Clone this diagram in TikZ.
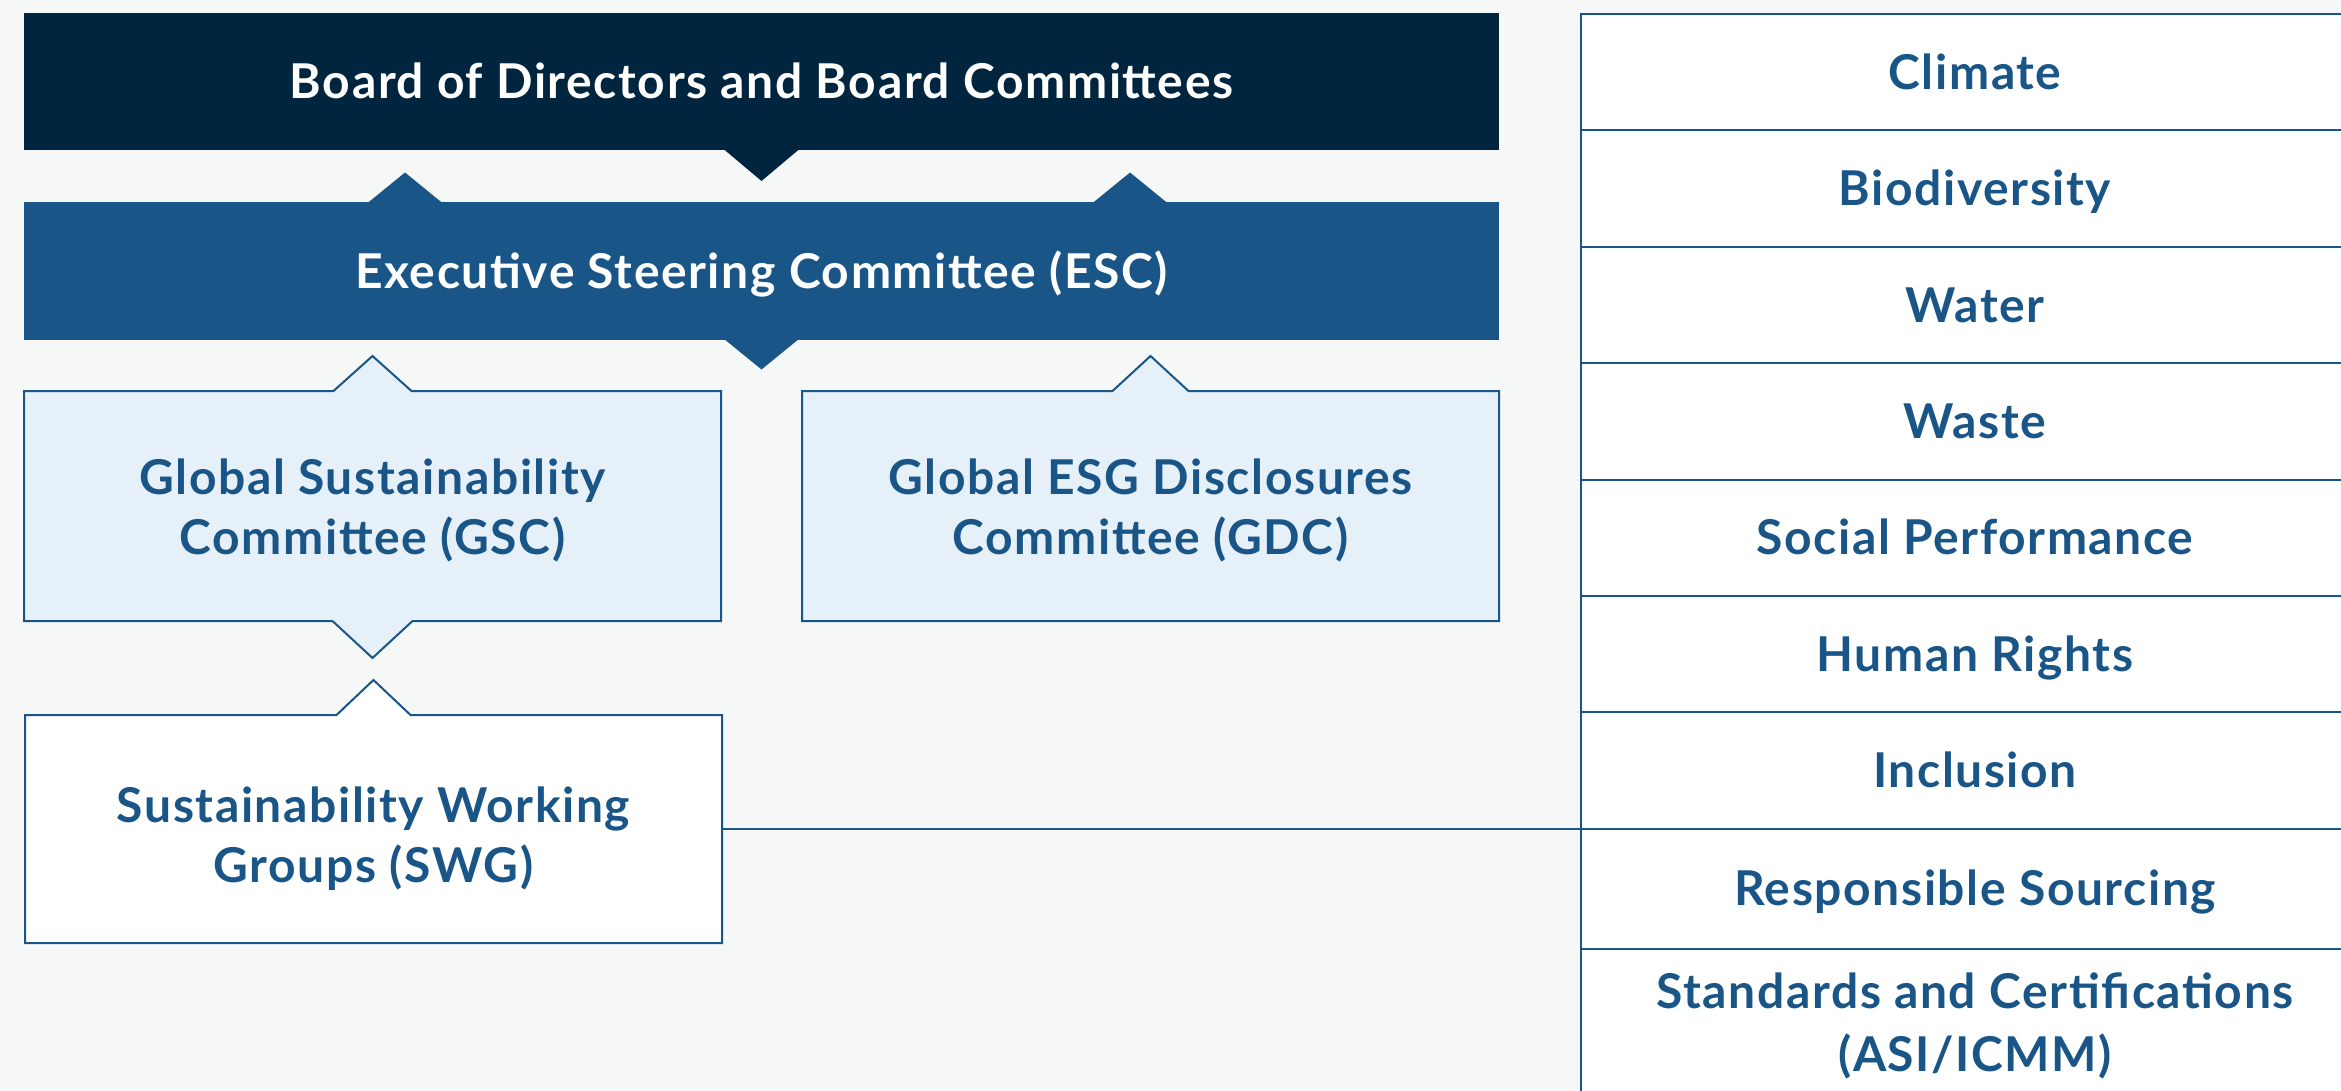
\documentclass[tikz,border=0pt]{standalone}
\usepackage{fontspec}
\setmainfont{Lato}[LetterSpace=3.3]
\usetikzlibrary{positioning,calc,backgrounds}

\definecolor{pagebg}{HTML}{F6F8F8}
\definecolor{boardnavy}{HTML}{01253E}
\definecolor{escblue}{HTML}{1A5587}
\definecolor{panelblue}{HTML}{E6F0F9}

\begin{document}
\begin{tikzpicture}[
    x=1pt, y=-1pt,
    every node/.style={font=\fontsize{48}{60}\selectfont\bfseries, align=center, inner sep=0pt, outer sep=0pt,
        text height=44pt, text depth=10pt},
    bar/.style={rectangle, minimum width=1475pt, minimum height=137pt, text=white},
    panel/.style={rectangle, minimum width=697pt, minimum height=230pt, text=escblue,
        text height=110pt, text depth=13pt},
    topic/.style={rectangle, draw=escblue, line width=2pt, fill=white, text=escblue, minimum width=788pt, minimum height=116.4pt},
    outline/.style={draw=escblue, line width=2pt, line join=miter}
]
\useasboundingbox (0,0) rectangle (2341,1091);
\clip (0,0) rectangle (2341,1091);

% governance bars
\node[bar, fill=boardnavy] (board) at (761.5,81.5) {Board of Directors and Board Committees};
\node[bar, fill=escblue] (esc) at (761.5,271) {Executive Steering Committee (ESC)};

\fill[boardnavy] ($(board.south)+(-38,-1)$) -- ++(38,32) -- ++(38,-32) -- cycle;
\fill[escblue] ($(esc.north west)+(343,1)$) -- ++(38,-31) -- ++(38,31) -- cycle;
\fill[escblue] ($(esc.north west)+(1068,1)$) -- ++(38,-31) -- ++(38,31) -- cycle;
\fill[escblue] ($(esc.south)+(-38,-1)$) -- ++(38,31) -- ++(38,-31) -- cycle;

% committees and working groups
\node[panel] (gsc) at (372.5,506) {Global Sustainability\\Committee (GSC)};
\node[panel] (gdc) at (1150.5,506) {Global ESG Disclosures\\Committee (GDC)};
\node[panel, minimum height=228pt, text height=119pt] (swg) at (373.5,829) {Sustainability Working\\Groups (SWG)};

% topic column
\node[topic, anchor=north west] (climate) at (1581,14) {Climate};
\node[topic, below=0pt of climate] (biodiversity) {Biodiversity};
\node[topic, below=0pt of biodiversity] (water) {Water};
\node[topic, below=0pt of water] (waste) {Waste};
\node[topic, below=0pt of waste] (social) {Social Performance};
\node[topic, below=0pt of social] (rights) {Human Rights};
\node[topic, below=0pt of rights] (inclusion) {Inclusion};
\node[topic, below=0pt of inclusion, minimum height=120pt] (sourcing) {Responsible Sourcing};
\node[topic, below=0pt of sourcing, minimum height=148pt, text height=107pt] (standards) {Standards and Certifications\\[3pt](ASI/ICMM)};

\draw[outline] (swg.east) -- (swg.east -| sourcing.west);

% panel outlines with their notches, kept behind the texts
\begin{scope}[on background layer]
\fill[pagebg] (0,0) rectangle (2341,1091);
\draw[outline, fill=panelblue] (gsc.north west) -- ($(gsc.north)+(-39,0)$) -- ++(39,-35) -- ++(39,35)
    -- (gsc.north east) -- (gsc.south east) -- ($(gsc.south)+(40,0)$) -- ++(-40,37) -- ++(-40,-37)
    -- (gsc.south west) -- cycle;
\draw[outline, fill=panelblue] (gdc.north west) -- ($(gdc.north)+(-38,0)$) -- ++(38,-35) -- ++(38,35)
    -- (gdc.north east) -- (gdc.south east) -- (gdc.south west) -- cycle;
\draw[outline, fill=white] (swg.north west) -- ($(swg.north)+(-37,0)$) -- ++(37,-35) -- ++(37,35)
    -- (swg.north east) -- (swg.south east) -- (swg.south west) -- cycle;
\end{scope}

\end{tikzpicture}
\end{document}
